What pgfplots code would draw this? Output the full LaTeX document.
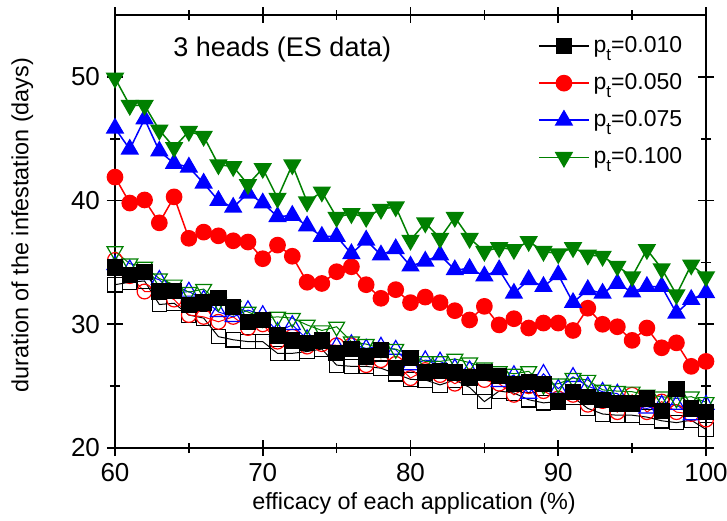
\documentclass[border=0pt]{standalone}
\usepackage{fontspec}
\setmainfont{Liberation Sans}
\usepackage{pgfplots}
\pgfplotsset{compat=1.18}
\usepackage{pgfplotstable}

\definecolor{pgreen}{RGB}{0,128,0}
\definecolor{pred}{RGB}{255,0,0}
\definecolor{pblue}{RGB}{0,0,255}

\newcommand{\pt}{p\raisebox{-4pt}{\fontsize{8.5}{8.5}\selectfont t}}

% durations with ES data, filled symbols
\pgfplotstableread{
x   f010  f050  f075  f100
60  34.6  41.9  45.85 49.9
61  34.0  39.8  44.15 47.7
62  34.2  40.05 46.6  47.7
63  32.65 38.2  44.0  45.7
64  32.7  40.3  43.0  44.3
65  31.55 36.95 42.7  45.6
66  31.75 37.45 41.4  45.2
67  32.1  37.15 40.0  42.9
68  31.4  36.75 39.45 42.75
69  30.2  36.65 40.6  41.3
70  30.35 35.3  39.8  42.6
71  29.1  36.4  38.7  40.2
72  28.7  35.5  38.8  42.9
73  28.5  33.4  37.95 39.9
74  28.7  33.3  37.1  40.7
75  27.7  34.25 37.1  38.65
76  28.0  34.65 35.7  38.95
77  27.4  33.2  36.8  38.65
78  27.9  32.1  35.6  39.3
79  26.45 32.8  36.1  39.5
80  27.25 31.75 34.7  36.8
81  26.1  32.2  35.1  38.2
82  26.25 31.75 35.6  36.95
83  26.1  31.1  34.4  38.65
84  25.7  30.35 34.5  36.95
85  26.1  31.45 33.9  35.9
86  25.8  29.95 34.4  36.2
87  25.2  30.45 32.5  36.05
88  25.35 29.7  33.6  36.7
89  25.2  30.1  33.05 35.9
90  23.75 30.1  34.0  35.7
91  24.55 29.5  31.75 36.2
92  24.1  31.3  32.8  35.6
93  23.9  30.0  32.5  35.5
94  23.6  29.8  33.3  34.7
95  23.6  28.7  32.6  33.85
96  24.0  29.7  33.05 36.05
97  23.0  28.1  33.05 34.5
98  24.75 28.5  30.9  32.4
99  23.2  26.6  32.0  34.8
100 22.9  27.0  32.55 33.85
}\filledset

% second set, open symbols
\pgfplotstableread{
x   o010  o050  o075  o100
60  33.2  35.2  34.8  35.9
61  33.4  33.9  34.45 34.9
62  33.5  32.65 34.0  34.65
63  31.6  32.6  33.6  33.7
64  31.7  32.0  32.5  33.2
65  30.75 30.75 32.65 32.6
66  30.5  30.6  32.0  32.85
67  29.0  30.2  31.0  31.8
68  28.75 30.6  30.6  31.5
69  28.6  29.7  31.15 31.0
70  28.6  30.0  30.75 30.5
71  27.65 28.6  29.4  30.6
72  27.65 29.0  29.95 30.5
73  27.8  28.2  28.8  29.95
74  28.0  28.4  28.5  29.5
75  26.7  28.3  28.2  29.8
76  26.6  28.3  28.4  28.6
77  26.6  26.7  28.05 28.4
78  26.45 27.1  28.2  28.05
79  26.0  26.8  27.95 28.0
80  25.55 25.65 26.7  27.5
81  25.5  26.3  27.1  27.0
82  25.1  25.9  27.0  27.0
83  25.5  25.2  26.45 27.2
84  24.9  25.8  26.3  26.9
85  23.75 25.5  26.0  26.5
86  24.6  25.2  25.35 26.2
87  24.45 24.3  25.9  26.0
88  23.9  25.0  24.4  26.2
89  23.65 24.6  26.0  25.1
90  23.75 24.0  24.8  25.2
91  24.1  24.3  25.75 25.65
92  23.2  23.5  25.0  25.5
93  22.75 23.8  24.55 24.7
94  22.65 22.9  24.4  24.6
95  22.65 24.3  23.35 24.55
96  22.5  22.9  23.2  24.3
97  22.2  23.75 23.5  24.15
98  22.05 22.9  23.5  24.0
99  22.25 22.75 22.65 24.15
100 21.5  22.3  23.5  23.7
}\openset

\begin{document}
\begin{tikzpicture}
\useasboundingbox (-57.5pt,-36pt) rectangle (306pt,224pt);
\begin{axis}[
  at={(0,0)}, anchor=south west,
  width=295.5pt, height=216.5pt, scale only axis,
  xmin=60, xmax=100, ymin=20, ymax=55,
  xtick={60,70,80,90,100}, ytick={20,30,40,50},
  minor x tick num=1, minor y tick num=1,
  tick align=center, major tick length=8pt, minor tick length=5pt,
  axis line style={line width=1pt},
  every tick/.style={black, line width=0.8pt},
  /pgf/number format/assume math mode=true,
  ticklabel style={font=\fontsize{13}{15}\selectfont},
  xlabel={efficacy of each application (\%)},
  ylabel={duration of the infestation (days)},
  label style={font=\fontsize{11.7}{14}\selectfont},
  x label style={at={(axis description cs:0.506,-0.127)}, anchor=center},
  y label style={at={(axis description cs:-0.157,0.515)}, anchor=center},
  legend style={draw=none, fill=none, font=\fontsize{11.5}{14}\selectfont,
    at={(rel axis cs:0.712,0.965)}, anchor=north west,
    row sep=5pt, inner sep=1pt},
  legend cell align=left,
  legend image code/.code={%
    \draw[mark repeat=2,mark phase=2,#1] plot coordinates {(0pt,0pt) (12.5pt,0pt) (25pt,0pt)};},
  clip=false,
]
% open symbols
\addplot[forget plot, black, line width=0.5pt, mark=square, mark size=3.6pt,
  mark options={fill=white, line width=0.6pt}] table[x=x,y=o010]{\openset};
\addplot[forget plot, pred, line width=0.5pt, mark=o, mark size=3.7pt,
  mark options={fill=white, line width=0.6pt}] table[x=x,y=o050]{\openset};
\addplot[forget plot, pblue, line width=0.5pt, mark=triangle, mark size=4.6pt,
  mark options={fill=white, line width=0.6pt}] table[x=x,y=o075]{\openset};
\addplot[forget plot, pgreen, line width=0.5pt, mark=triangle, mark size=4.6pt,
  mark options={fill=white, line width=0.6pt, rotate=180}] table[x=x,y=o100]{\openset};
% filled symbols
\addplot[black, line width=0.75pt, mark=square*, mark size=3.7pt,
  mark options={solid, fill=black}] table[x=x,y=f010]{\filledset};
\addlegendentry{\pt=0.010}
\addplot[pred, line width=0.75pt, mark=*, mark size=3.8pt,
  mark options={solid, fill=pred}] table[x=x,y=f050]{\filledset};
\addlegendentry{\pt=0.050}
\addplot[pblue, line width=0.75pt, mark=triangle*, mark size=4.6pt,
  mark options={solid, fill=pblue}] table[x=x,y=f075]{\filledset};
\addlegendentry{\pt=0.075}
\addplot[pgreen, line width=0.75pt, mark=triangle*, mark size=4.6pt,
  mark options={solid, fill=pgreen, rotate=180}] table[x=x,y=f100]{\filledset};
\addlegendentry{\pt=0.100}
\node[anchor=base, font=\fontsize{13.5}{16}\selectfont] at (rel axis cs:0.283,0.905) {3 heads (ES data)};
\end{axis}
\end{tikzpicture}
\end{document}
